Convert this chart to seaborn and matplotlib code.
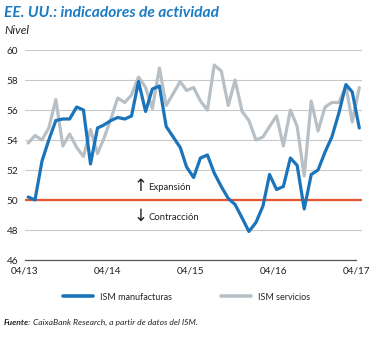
import matplotlib
matplotlib.use("Agg")
import matplotlib.pyplot as plt
import matplotlib.dates as mdates
import seaborn as sns
import pandas as pd

# Monthly ISM indices, April 2013 - April 2017
meses = pd.date_range("2013-04-01", "2017-04-01", freq="MS") + pd.Timedelta(days=14)

ism_manufacturas = [
    50.2, 50.0, 52.6, 54.0, 55.3, 55.4, 55.4, 56.2, 56.0, 52.4, 54.8, 55.0,
    55.3, 55.5, 55.4, 55.6, 57.9, 55.9, 57.4, 57.6, 54.9, 54.2, 53.5, 52.2,
    51.5, 52.8, 53.0, 51.8, 50.9, 50.1, 49.7, 48.8, 47.9, 48.5, 49.6, 51.7,
    50.7, 50.9, 52.8, 52.3, 49.4, 51.7, 52.0, 53.2, 54.2, 55.8, 57.7, 57.2,
    54.8,
]
ism_servicios = [
    53.8, 54.3, 54.0, 54.8, 56.7, 53.6, 54.4, 53.5, 52.9, 54.7, 53.1, 54.1,
    55.4, 56.8, 56.5, 57.0, 58.2, 57.5, 56.1, 58.8, 56.3, 57.1, 57.9, 57.3,
    57.5, 56.6, 56.0, 59.0, 58.6, 56.3, 58.0, 55.9, 55.3, 54.0, 54.2, 54.9,
    55.6, 53.6, 56.0, 54.9, 51.6, 56.6, 54.6, 56.2, 56.5, 56.5, 57.6, 55.2,
    57.5,
]

series = ["ISM manufacturas", "ISM servicios"]
tick_fechas = pd.to_datetime(["2013-04-01", "2014-04-01", "2015-04-01",
                              "2016-04-01", "2017-04-01"])
tick_labels = ["04/13", "04/14", "04/15", "04/16", "04/17"]
y_ticks = [46, 48, 50, 52, 54, 56, 58, 60]
umbral = 50

df = pd.concat([
    pd.DataFrame({"fecha": meses, "valor": ism_servicios, "serie": series[1]}),
    pd.DataFrame({"fecha": meses, "valor": ism_manufacturas, "serie": series[0]}),
])

AZUL = "#1b74ba"
GRIS = "#b8c0c5"
ROJO = "#e8552c"
TITULO = "#1a7cc3"
TEXTO = "#222222"

sns.set_theme(style="white")
plt.rcParams["font.family"] = ["Lato", "DejaVu Sans"]

fig = plt.figure(figsize=(3.76, 3.38), dpi=100)
ax = fig.add_axes([25 / 376, 78 / 338, 337 / 376, 210 / 338])

ax.axhline(umbral, color=ROJO, lw=1.6, zorder=2)
sns.lineplot(data=df, x="fecha", y="valor", hue="serie",
             hue_order=[series[1], series[0]],
             palette={series[0]: AZUL, series[1]: GRIS},
             linewidth=2.3, legend=False, ax=ax, zorder=3)

ax.set_ylim(46, 60)
ax.set_yticks(y_ticks)
ax.set_xlim(pd.Timestamp("2013-04-01"), pd.Timestamp("2017-04-27"))
ax.set_xticks(tick_fechas)
ax.set_xticklabels(tick_labels)
ax.set_xlabel("")
ax.set_ylabel("")

ax.grid(axis="y", color="#c9c9c9", lw=0.8, zorder=0)
ax.grid(axis="x", visible=False)
for s in ["left", "top", "right"]:
    ax.spines[s].set_visible(False)
ax.spines["bottom"].set_color("#555555")
ax.spines["bottom"].set_linewidth(0.9)
ax.spines["bottom"].set_bounds(mdates.date2num(tick_fechas[0]),
                               mdates.date2num(tick_fechas[-1]))
ax.tick_params(axis="x", direction="inout", length=4, width=0.8,
               color="#555555", labelsize=7.2, labelcolor=TEXTO, pad=2.5)
ax.tick_params(axis="y", length=0, labelsize=7.2, labelcolor=TEXTO, pad=5)

# Expansion / contraction notes around the 50 threshold
x_flecha = pd.Timestamp("2014-08-26")
x_texto = pd.Timestamp("2014-09-28")
ax.text(x_flecha, 50.95, "\u2191", fontsize=12, color=TEXTO, ha="center",
        va="center", family="DejaVu Sans")
ax.text(x_texto, 50.85, "Expansión", fontsize=6.8, color=TEXTO,
        ha="left", va="center")
ax.text(x_flecha, 48.95, "\u2193", fontsize=12, color=TEXTO, ha="center",
        va="center", family="DejaVu Sans")
ax.text(x_texto, 48.85, "Contracción", fontsize=6.8, color=TEXTO,
        ha="left", va="center")

handles = [plt.Line2D([], [], color=AZUL, lw=2.6),
           plt.Line2D([], [], color=GRIS, lw=2.6)]
fig.legend(handles, series, loc="center", bbox_to_anchor=(0.497, 0.121),
           ncol=2, frameon=False, fontsize=6.5, handlelength=3.3,
           handletextpad=0.8, columnspacing=5.4)

fig.text(4 / 376, 1 - 17 / 338, "EE. UU.: indicadores de actividad",
         fontsize=11.2, fontweight="bold", fontstyle="italic", color=TITULO,
         ha="left", va="baseline")
fig.text(4 / 376, 1 - 33.5 / 338, "Nivel", fontsize=8.5, fontstyle="italic",
         color=TEXTO, ha="left", va="baseline")

fuente = fig.text(4 / 376, 1 - 325 / 338, "Fuente:", fontsize=6.1,
                  fontweight="bold", fontstyle="italic", color=TEXTO,
                  ha="left", va="baseline")
fig.canvas.draw()
ext = fuente.get_window_extent(renderer=fig.canvas.get_renderer())
fig.text((ext.x1 + 2) / fig.bbox.width, 1 - 325 / 338,
         "CaixaBank Research, a partir de datos del ISM.", fontsize=6.1,
         fontstyle="italic", color=TEXTO, ha="left", va="baseline")

fig.savefig("out.png", dpi=100)
